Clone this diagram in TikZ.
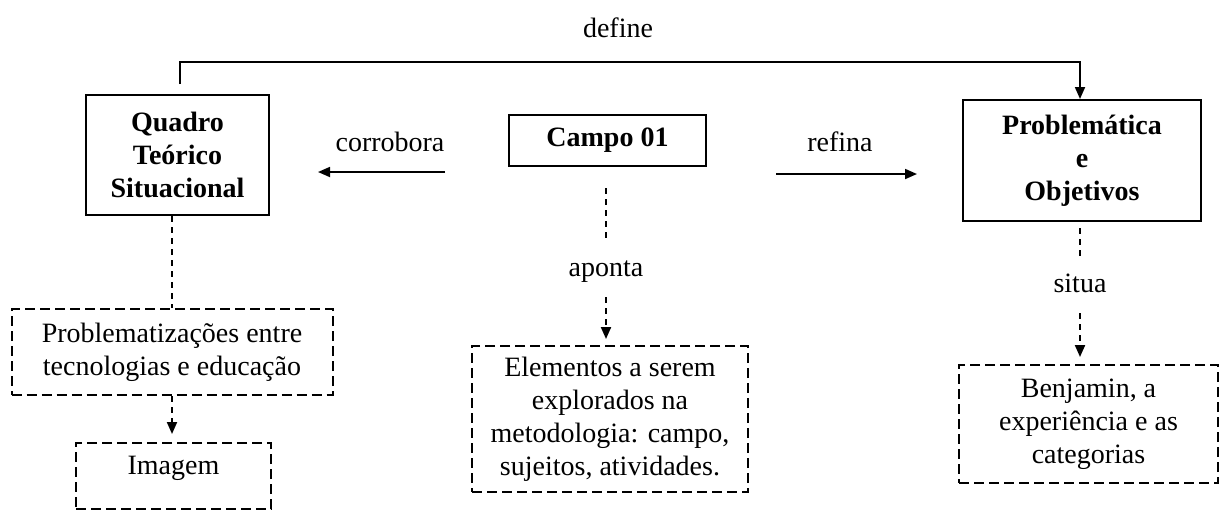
\documentclass[tikz,border=0pt]{standalone}
\usepackage{fontspec}
\setmainfont{Liberation Serif}
\usetikzlibrary{arrows.meta}
\begin{document}
\begin{tikzpicture}[x=0.5pt,y=-0.5pt,
  every node/.style={font=\fontsize{14}{16.5}\selectfont, align=center, inner sep=0pt},
  solidbox/.style={draw, line width=1pt, font=\bfseries\fontsize{14}{16.5}\selectfont},
  dashbox/.style={draw, line width=1pt, dash pattern=on 5pt off 2.5pt},
  tag/.style={text height=7pt, text depth=2.5pt},
  tip/.style={-{Triangle[length=6pt,width=5pt]}},
  link/.style={line width=0.9pt, tip},
  dashlink/.style={line width=1pt, dash pattern=on 3pt off 2.5pt},
]
\useasboundingbox (0,0) rectangle (1220,511);

% main boxes
\node[solidbox, minimum width=91.5pt, minimum height=60pt] (quadro) at (177.5,155) {Quadro\\Teórico\\Situacional};
\node[solidbox, minimum width=98.5pt, minimum height=25.5pt] (campo) at (607.5,140.5) {Campo 01};
\node[solidbox, minimum width=119pt, minimum height=60.5pt] (problem) at (1082,160.5) {Problemática\\e\\Objetivos};

% dashed boxes
\node[dashbox, minimum width=160.5pt, minimum height=43pt] (probz) at (172,352) {Problematizações entre\\tecnologias e educação};
\node[dashbox, minimum width=97.5pt, text height=15.5pt, text depth=17.5pt, anchor=base] (imagem) at (173.5,474) {Imagem};
\node[dashbox, minimum width=138pt, minimum height=73pt] (elem) at (610,419) {Elementos a serem\\explorados na\\metodologia: campo,\\sujeitos, atividades.};
\node[dashbox, minimum width=129.5pt, minimum height=59pt] (benj) at (1088.5,424) {Benjamin, a\\experiência e as\\categorias};

% labels
\node (define) at (618,28) {define};
\node (corrobora) at (390,142) {corrobora};
\node (refina) at (840,142) {refina};
\node[tag] (aponta) at (606,272) {aponta};
\node[tag] (situa) at (1080,288) {situa};

% free arrow ends
\coordinate (cor-a) at (445,172);
\coordinate (cor-b) at (318,172);
\coordinate (ref-a) at (776,174);
\coordinate (ref-b) at (917,174);
\coordinate (defrow) at (0,62);

% define: top bracket connector
\draw[link, shorten <=5pt] ([xshift=1.25pt]quadro.north) -- ([xshift=1.25pt]quadro.north |- defrow) -| ([xshift=-1pt]problem.north);

% horizontal arrows
\draw[link] (cor-a) -- (cor-b);
\draw[link] (ref-a) -- (ref-b);

% aponta
\draw[dashlink, shorten <=10.5pt, shorten >=9.75pt] (aponta |- campo.south) -- (aponta.north);
\draw[dashlink, tip, shorten <=7.75pt, shorten >=3pt] (aponta.south) -- (aponta |- elem.north);

% situa
\draw[dashlink, shorten <=3pt, shorten >=9.25pt] (situa |- problem.south) -- (situa.north);
\draw[dashlink, tip, shorten <=7.75pt, shorten >=3.5pt] (situa.south) -- (situa |- benj.north);

% quadro branch
\draw[dashlink] (probz.north |- quadro.south) -- (probz.north);
\draw[dashlink, tip, shorten >=4pt] (probz.south) -- (probz.south |- imagem.north);
\end{tikzpicture}
\end{document}
